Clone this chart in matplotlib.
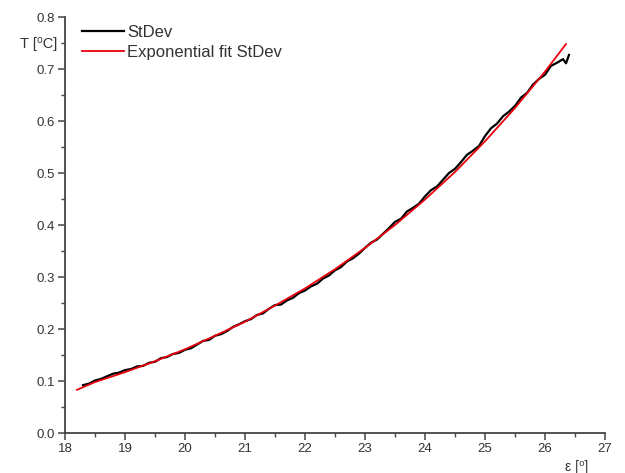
import matplotlib
matplotlib.use("Agg")
import matplotlib.pyplot as plt
from matplotlib.ticker import MultipleLocator

plt.rcParams['font.family'] = ['Liberation Sans', 'DejaVu Sans']

stdev_x = [18.3, 18.4, 18.5, 18.6, 18.7, 18.8, 18.9, 19.0, 19.1, 19.2,
           19.3, 19.4, 19.5, 19.6, 19.7, 19.8, 19.9, 20.0, 20.1, 20.2,
           20.3, 20.4, 20.5, 20.6, 20.7, 20.8, 20.9, 21.0, 21.1, 21.2,
           21.3, 21.4, 21.5, 21.6, 21.7, 21.8, 21.9, 22.0, 22.1, 22.2,
           22.3, 22.4, 22.5, 22.6, 22.7, 22.8, 22.9, 23.0, 23.1, 23.2,
           23.3, 23.4, 23.5, 23.6, 23.7, 23.8, 23.9, 24.0, 24.1, 24.2,
           24.3, 24.4, 24.5, 24.6, 24.7, 24.8, 24.9, 25.0, 25.1, 25.2,
           25.3, 25.4, 25.5, 25.6, 25.7, 25.8, 25.9, 26.0, 26.1, 26.2,
           26.3, 26.35, 26.4]
stdev_y = [0.092, 0.095, 0.101, 0.104, 0.109, 0.114, 0.116, 0.121, 0.123, 0.128,
           0.129, 0.135, 0.137, 0.144, 0.146, 0.152, 0.154, 0.160, 0.163, 0.170,
           0.177, 0.179, 0.187, 0.190, 0.196, 0.204, 0.209, 0.215, 0.219, 0.227,
           0.230, 0.239, 0.246, 0.247, 0.255, 0.260, 0.269, 0.274, 0.282, 0.287,
           0.297, 0.303, 0.313, 0.319, 0.330, 0.336, 0.345, 0.356, 0.366, 0.372,
           0.383, 0.394, 0.406, 0.412, 0.426, 0.433, 0.441, 0.455, 0.467, 0.474,
           0.487, 0.500, 0.508, 0.521, 0.535, 0.543, 0.552, 0.571, 0.586, 0.595,
           0.609, 0.618, 0.629, 0.645, 0.654, 0.670, 0.681, 0.689, 0.706, 0.712,
           0.719, 0.711, 0.727]

# Exponential fit
fit_x = [18.2, 18.5, 19.0, 19.5, 20.0, 20.5, 21.0, 21.5, 22.0, 22.5,
         23.0, 23.5, 24.0, 24.5, 25.0, 25.5, 26.0, 26.35]
fit_y = [0.083, 0.098, 0.117, 0.138, 0.161, 0.187, 0.214, 0.245, 0.278, 0.315,
         0.356, 0.400, 0.449, 0.502, 0.561, 0.625, 0.695, 0.748]

x_ticks = [18, 19, 20, 21, 22, 23, 24, 25, 26, 27]
y_ticks = [0.0, 0.1, 0.2, 0.3, 0.4, 0.5, 0.6, 0.7, 0.8]

fig = plt.figure(figsize=(6.25, 4.73), dpi=100)
ax = fig.add_axes([65/625, 1-433/473, 540/625, 416/473])

ax.plot(stdev_x, stdev_y, color='black', lw=1.6, label='StDev', zorder=2)
ax.plot(fit_x, fit_y, color='#e8000b', lw=1.3, label='Exponential fit StDev', zorder=3)

ax.set_xlim(18, 27)
ax.set_ylim(0.0, 0.8)
ax.set_xticks(x_ticks)
ax.set_yticks(y_ticks)
ax.set_yticklabels([f"{v:.1f}" for v in y_ticks])
ax.xaxis.set_minor_locator(MultipleLocator(0.5))
ax.yaxis.set_minor_locator(MultipleLocator(0.05))

for s in ['top', 'right']:
    ax.spines[s].set_visible(False)
for s in ['left', 'bottom']:
    ax.spines[s].set_color('#444444')
    ax.spines[s].set_linewidth(1.3)

ax.tick_params(which='major', direction='out', length=5, width=1.1, color='#444444',
               labelsize=9.5, labelcolor='#333333', pad=2)
ax.tick_params(which='minor', direction='out', length=3, width=1.0, color='#444444')

leg = ax.legend(loc='upper left', bbox_to_anchor=(82/625, 1-25/473),
                bbox_transform=fig.transFigure, frameon=False, fontsize=12,
                handlelength=2.5, handletextpad=0.2, labelspacing=0.3,
                borderaxespad=0, borderpad=0)
for t in leg.get_texts():
    t.set_color('#333333')

fig.text(20/625, 1-44/473, 'T [\u2070C]', fontsize=10.5, color='#333333',
         ha='left', va='center')
fig.text(565/625, 1-467/473, '\u03b5 [\u2070]', fontsize=10, color='#333333',
         ha='left', va='center')

fig.savefig('out.png', dpi=100)
